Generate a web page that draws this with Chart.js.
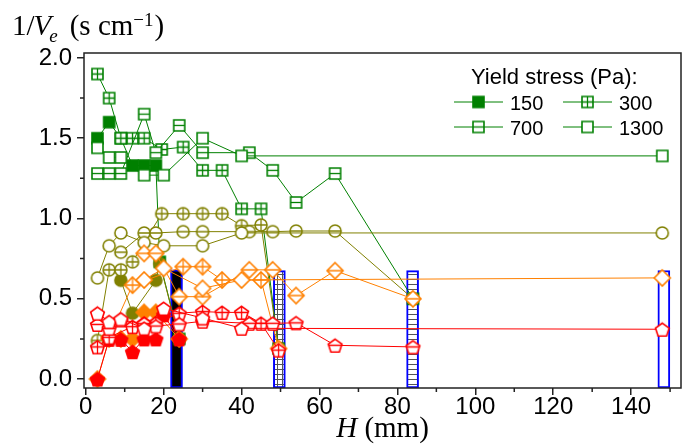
<!DOCTYPE html>
<html lang="en">
<head>
<meta charset="UTF-8" />
<title>1/Ve vs H</title>
<script src="https://cdn.jsdelivr.net/npm/chart.js@4"></script>
<style>
  body { margin: 0; background: #fff; }
  #wrap { width: 688px; height: 444px; position: relative; }
</style>
</head>
<body>
<div id="wrap"><canvas id="myChart"></canvas></div>
<script>
// axis limits and ticks
const X_MIN = -0.45, X_MAX = 152.8;
const Y_MIN = -0.056, Y_MAX = 2.031;
const xMajor = [0, 20, 40, 60, 80, 100, 120, 140];
const xMinor = [10, 30, 50, 70, 90, 110, 130, 150];
const yMajor = [0, 0.5, 1, 1.5, 2];
const yMinor = [0.25, 0.75, 1.25, 1.75];

// yield stress (legend)
const stressLabels = ["150", "300", "700", "1300"];

// bars (one per yield stress)
const barX = [23.3, 49.7, 83.9, 148.4];
const barTop = [0.68, 0.675, 0.675, 0.675];

// green squares
const g150x = [3, 6, 9, 12, 15, 18, 19, 24];
const g150y = [1.5, 1.6, 1.5, 1.33, 1.33, 1.33, 0.73, 0.25];
const g300x = [3, 6, 9, 12, 15, 19.5, 25, 30, 35, 40, 45, 49.5];
const g300y = [1.9, 1.75, 1.5, 1.5, 1.5, 1.43, 1.445, 1.3, 1.3, 1.06, 1.06, 0.19];
const g700x = [3, 6, 9, 15, 18, 24, 30, 42, 48, 54, 64, 84];
const g700y = [1.28, 1.28, 1.28, 1.65, 1.41, 1.58, 1.41, 1.41, 1.3, 1.1, 1.28, 0.5];
const g1300x = [3, 6, 9, 15, 20, 30, 40, 148];
const g1300y = [1.44, 1.38, 1.38, 1.27, 1.27, 1.5, 1.39, 1.39];

// olive circles
const o150x = [9, 12, 18, 19, 24];
const o150y = [0.615, 0.41, 0.615, 0.72, 0.25];
const o300x = [3, 6, 9, 12, 19.5, 25, 30, 35, 40, 45, 49.5];
const o300y = [0.24, 0.68, 0.68, 0.73, 1.03, 1.03, 1.03, 1.03, 0.955, 0.96, 0.19];
const o700x = [9, 15, 18, 25, 30, 42, 48, 54, 64, 84];
const o700y = [0.79, 0.91, 0.91, 0.918, 0.918, 0.918, 0.918, 0.922, 0.922, 0.5];
const o1300x = [3, 6, 9, 15, 20, 30, 40, 148];
const o1300y = [0.63, 0.83, 0.91, 0.85, 0.83, 0.83, 0.91, 0.91];

// orange diamonds
const a150x = [3, 6, 9, 12, 15, 18, 24];
const a150y = [0, 0.25, 0.25, 0.25, 0.415, 0.415, 0.25];
const a300x = [6, 12, 25, 30, 35, 45, 49.5];
const a300y = [0.26, 0.585, 0.7, 0.7, 0.617, 0.617, 0.19];
const a700x = [15, 18, 24, 30, 42, 48, 54, 64, 84];
const a700y = [0.783, 0.783, 0.513, 0.513, 0.68, 0.68, 0.52, 0.675, 0.5];
const a1300x = [15, 20, 30, 40, 148];
const a1300y = [0.617, 0.69, 0.565, 0.617, 0.63];

// red pentagons
const r150x = [3, 6, 9, 12, 15, 18, 20, 24];
const r150y = [0, 0.247, 0.247, 0.17, 0.25, 0.25, 0.4, 0.25];
const r300x = [3, 6, 12, 15, 18, 24, 30, 35, 40, 45, 49.5];
const r300y = [0.2, 0.26, 0.326, 0.347, 0.35, 0.41, 0.42, 0.415, 0.415, 0.347, 0.18];
const r700x = [3, 6, 9, 15, 18, 24, 30, 42, 48, 54, 64, 84];
const r700y = [0.34, 0.316, 0.368, 0.345, 0.33, 0.343, 0.36, 0.347, 0.347, 0.35, 0.21, 0.2];
const r1300x = [3, 6, 9, 15, 20, 30, 40, 148];
const r1300y = [0.41, 0.357, 0.374, 0.316, 0.44, 0.38, 0.316, 0.31];

const GREEN = "#008000", OLIVE = "#808000", ORANGE = "#ff8000", RED = "#ff0000";
const SANS = '"Liberation Sans", Arial, sans-serif';
const SERIF = '"Liberation Serif", "Times New Roman", serif';

const groups = [
  { color: GREEN, shape: "square", sets: [[g150x, g150y], [g300x, g300y], [g700x, g700y], [g1300x, g1300y]] },
  { color: OLIVE, shape: "circle", sets: [[o150x, o150y], [o300x, o300y], [o700x, o700y], [o1300x, o1300y]] },
  { color: ORANGE, shape: "diamond", sets: [[a150x, a150y], [a300x, a300y], [a700x, a700y], [a1300x, a1300y]] },
  { color: RED, shape: "pentagon", sets: [[r150x, r150y], [r300x, r300y], [r700x, r700y], [r1300x, r1300y]] },
];
const fills = ["solid", "cross", "hline", "hollow"];

// marker images
const sizes = { square: 5.5, circle: 6, diamond: 8, pentagon: 7.2 };
function shapePath(g, shape, m, r) {
  g.beginPath();
  if (shape === "square") g.rect(m - r, m - r, 2 * r, 2 * r);
  else if (shape === "circle") g.arc(m, m, r, 0, Math.PI * 2);
  else if (shape === "diamond") {
    g.moveTo(m, m - r); g.lineTo(m + r, m); g.lineTo(m, m + r); g.lineTo(m - r, m); g.closePath();
  } else {
    for (let i = 0; i < 5; i++) {
      const a = -Math.PI / 2 + (i * 2 * Math.PI) / 5;
      const px = m + r * Math.cos(a), py = m + 1 + r * Math.sin(a);
      if (i) g.lineTo(px, py); else g.moveTo(px, py);
    }
    g.closePath();
  }
}
function marker(shape, fill, color) {
  const r = sizes[shape];
  const s = Math.ceil(2 * r + 4);
  const c = document.createElement("canvas");
  c.width = c.height = s;
  const g = c.getContext("2d");
  const m = s / 2;
  g.lineWidth = 1.6;
  g.strokeStyle = color;
  g.fillStyle = fill === "solid" ? color : "#fff";
  shapePath(g, shape, m, r);
  g.fill();
  g.stroke();
  if (fill === "cross" || fill === "hline") {
    g.save();
    shapePath(g, shape, m, r);
    g.clip();
    g.lineWidth = 1.3;
    g.beginPath();
    g.moveTo(m - r, m); g.lineTo(m + r, m);
    if (fill === "cross") { g.moveTo(m, m - r); g.lineTo(m, m + r); }
    g.stroke();
    g.restore();
  }
  return c;
}

// hatch patterns for bars
function hatch(grid) {
  const c = document.createElement("canvas");
  c.width = c.height = 5;
  const g = c.getContext("2d");
  g.fillStyle = "#fff"; g.fillRect(0, 0, 5, 5);
  g.fillStyle = "#555"; g.fillRect(0, 4, 5, 1);
  if (grid) g.fillRect(2, 0, 1, 5);
  return document.createElement("canvas").getContext("2d").createPattern(c, "repeat");
}

const datasets = [];
groups.forEach((grp) => {
  grp.sets.forEach(([xs, ys], k) => {
    datasets.push({
      type: "scatter",
      showLine: true,
      data: xs.map((x, i) => ({ x: x, y: ys[i] })),
      borderColor: grp.color,
      borderWidth: 1,
      pointStyle: marker(grp.shape, fills[k], grp.color),
      pointRadius: 6,
      pointHoverRadius: 6,
      order: 0,
    });
  });
});
datasets.reverse();
datasets.push({
  type: "bar",
  data: barX.map((x, i) => ({ x: x, y: [Y_MIN, barTop[i]] })),
  backgroundColor: ["#000", hatch(true), hatch(false), "#fff"],
  borderColor: "#0000ff",
  borderWidth: 2,
  borderSkipped: false,
  barThickness: 12,
  grouped: false,
  order: 1,
});

const legendMarkers = fills.map((f) => marker("square", f, GREEN));

// draw a run of text pieces, returns the end x
function run(ctx, pieces, x, base) {
  pieces.forEach(([txt, font, dy, kern]) => {
    ctx.font = font;
    x += kern || 0;
    ctx.fillText(txt, x, base + dy);
    x += ctx.measureText(txt).width;
  });
  return x;
}

// frame, minor ticks, titles, legend
const decor = {
  id: "decor",
  afterDatasetsDraw(chart) {
    const { ctx, chartArea: a, scales } = chart;
    ctx.save();
    ctx.strokeStyle = "#222";
    ctx.lineWidth = 1.5;
    ctx.strokeRect(a.left, a.top, a.right - a.left, a.bottom - a.top);
    ctx.beginPath();
    xMinor.forEach((v) => {
      const px = scales.x.getPixelForValue(v);
      ctx.moveTo(px, a.bottom); ctx.lineTo(px, a.bottom + 4);
    });
    yMinor.forEach((v) => {
      const py = scales.y.getPixelForValue(v);
      ctx.moveTo(a.left, py); ctx.lineTo(a.left - 4, py);
    });
    ctx.stroke();
    ctx.restore();
  },
  afterDraw(chart) {
    const { ctx, chartArea: a } = chart;
    ctx.save();
    ctx.fillStyle = "#000";
    ctx.textBaseline = "alphabetic";
    ctx.textAlign = "left";
    // y title
    const big = "29px " + SERIF, bigI = "italic 29px " + SERIF;
    const small = "19px " + SERIF, smallI = "italic 19px " + SERIF;
    run(ctx, [
      ["1/", big, 0, 0],
      ["V", bigI, 0, -1],
      ["e", smallI, 7, -2],
      ["(s cm", big, 0, 12],
      ["\u22121", small, -9, 0],
      [")", big, 0, 1],
    ], 12, 35);
    // x title
    ctx.font = bigI;
    const wH = ctx.measureText("H ").width;
    ctx.font = big;
    const wR = ctx.measureText("(mm)").width;
    const x0 = (a.left + a.right) / 2 - (wH + wR) / 2;
    run(ctx, [["H ", bigI, 0, 0], ["(mm)", big, 0, 0]], x0, 437);
    // legend
    ctx.font = "22px " + SANS;
    ctx.fillText("Yield stress (Pa):", 471, 84);
    const cols = [454, 563], rows = [102, 127];
    stressLabels.forEach((lab, i) => {
      const lx = cols[i % 2], ly = rows[Math.floor(i / 2)];
      ctx.strokeStyle = GREEN; ctx.lineWidth = 1;
      ctx.beginPath(); ctx.moveTo(lx, ly); ctx.lineTo(lx + 49, ly); ctx.stroke();
      const img = legendMarkers[i];
      ctx.drawImage(img, lx + 24.5 - img.width / 2, ly - img.height / 2);
      ctx.font = "20px " + SANS;
      ctx.fillText(lab, lx + 56, ly + 8);
    });
    ctx.restore();
  },
};

const tickFont = { family: SANS, size: 24 };
new Chart(document.getElementById("myChart"), {
  type: "scatter",
  data: { datasets: datasets },
  options: {
    responsive: true,
    maintainAspectRatio: false,
    animation: false,
    events: [],
    layout: { padding: { top: 53, right: 7, left: 0, bottom: 0 } },
    plugins: { legend: { display: false }, tooltip: { enabled: false } },
    scales: {
      x: {
        type: "linear",
        min: X_MIN,
        max: X_MAX,
        offset: false,
        afterBuildTicks: (s) => { s.ticks = xMajor.map((v) => ({ value: v })); },
        afterFit: (s) => { s.height = 56; },
        grid: { display: true, drawOnChartArea: false, drawTicks: true, tickLength: 7, lineWidth: 1.5, color: "#222", offset: false },
        border: { display: false },
        ticks: { padding: -2, color: "#000", font: tickFont, maxRotation: 0, autoSkip: false, callback: (v) => String(v) },
      },
      y: {
        type: "linear",
        min: Y_MIN,
        max: Y_MAX,
        afterBuildTicks: (s) => { s.ticks = yMajor.map((v) => ({ value: v })); },
        afterFit: (s) => { s.width = 84; },
        grid: { display: true, drawOnChartArea: false, drawTicks: true, tickLength: 7, lineWidth: 1.5, color: "#222" },
        border: { display: false },
        ticks: { padding: 5, color: "#000", font: tickFont, callback: (v) => v.toFixed(1) },
      },
    },
  },
  plugins: [decor],
});
</script>
</body>
</html>
